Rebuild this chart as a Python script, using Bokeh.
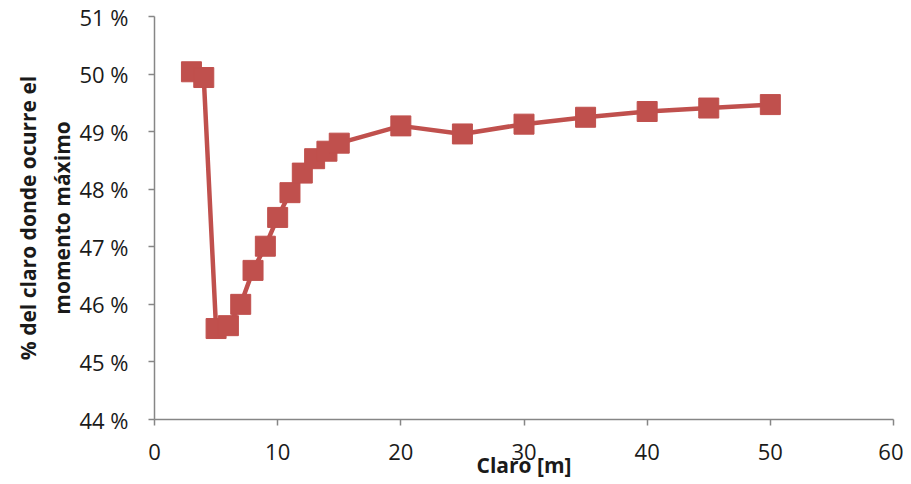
from bokeh.plotting import figure
from bokeh.models import LinearAxis, FixedTicker, PrintfTickFormatter, Range1d
from bokeh.embed import file_html
from bokeh.resources import INLINE

# Data
claro_m = [3, 4, 5, 6, 7, 8, 9, 10, 11, 12, 13, 14, 15, 20, 25, 30, 35, 40, 45, 50]
porcentaje = [50.04, 49.94, 45.58, 45.63, 46.00, 46.59, 47.01, 47.51, 47.94, 48.28,
              48.53, 48.66, 48.80, 49.10, 48.96, 49.13, 49.25, 49.35, 49.41, 49.47]
x_ticks = [0, 10, 20, 30, 40, 50, 60]
y_ticks = [44, 45, 46, 47, 48, 49, 50, 51]
x_title = "Claro [m]"
y_title_1 = "% del claro donde ocurre el"
y_title_2 = "momento máximo"

FONT = "Open Sans"
RED = "#C0504D"
AXIS = "#868686"

p = figure(frame_width=739, frame_height=403,
           x_range=Range1d(0, 60), y_range=Range1d(44, 51),
           output_backend="svg", toolbar_location=None,
           min_border_left=154, min_border_top=16, min_border_right=10, min_border_bottom=50,
           x_axis_location=None, y_axis_location=None)
p.outline_line_color = None
p.xgrid.visible = False
p.ygrid.visible = False
p.background_fill_color = "white"
p.border_fill_color = "white"

p.line(claro_m, porcentaje, line_color=RED, line_width=4.5)
p.scatter(claro_m, porcentaje, marker="square", size=20, fill_color=RED, line_color=RED, line_width=1)

xa = LinearAxis(ticker=FixedTicker(ticks=x_ticks), axis_label=x_title)
xa.axis_line_color = AXIS
xa.axis_line_width = 1.5
xa.major_tick_line_color = AXIS
xa.major_tick_line_width = 1.5
xa.major_tick_in = 0
xa.major_tick_out = 6
xa.minor_tick_line_color = None
xa.major_label_text_font = FONT
xa.major_label_text_font_size = "22px"
xa.major_label_text_color = "#1a1a1a"
xa.major_label_standoff = 18
xa.axis_label_text_font = FONT
xa.axis_label_text_font_size = "21px"
xa.axis_label_text_font_style = "bold"
xa.axis_label_text_color = "#1a1a1a"
xa.axis_label_standoff = -12
p.add_layout(xa, "below")

ya = LinearAxis(ticker=FixedTicker(ticks=y_ticks), axis_label=y_title_2,
                formatter=PrintfTickFormatter(format="%d %%"))
ya.axis_line_color = AXIS
ya.axis_line_width = 1.5
ya.major_tick_line_color = AXIS
ya.major_tick_line_width = 1.5
ya.major_tick_in = 0
ya.major_tick_out = 6
ya.minor_tick_line_color = None
ya.major_label_text_font = FONT
ya.major_label_text_font_size = "22px"
ya.major_label_text_color = "#1a1a1a"
ya.major_label_standoff = 20
ya.axis_label_text_font = FONT
ya.axis_label_text_font_size = "21px"
ya.axis_label_text_font_style = "bold"
ya.axis_label_text_color = "#1a1a1a"
ya.axis_label_standoff = 0
p.add_layout(ya, "left")

ya2 = LinearAxis(ticker=FixedTicker(ticks=[]), axis_label=y_title_1)
ya2.axis_line_color = None
ya2.major_tick_line_color = None
ya2.minor_tick_line_color = None
ya2.major_tick_out = 0
ya2.major_label_standoff = 0
ya2.axis_label_text_font = FONT
ya2.axis_label_text_font_size = "21px"
ya2.axis_label_text_font_style = "bold"
ya2.axis_label_text_color = "#1a1a1a"
ya2.axis_label_standoff = 4
p.add_layout(ya2, "left")

open("out.html", "w").write(file_html(p, INLINE))
